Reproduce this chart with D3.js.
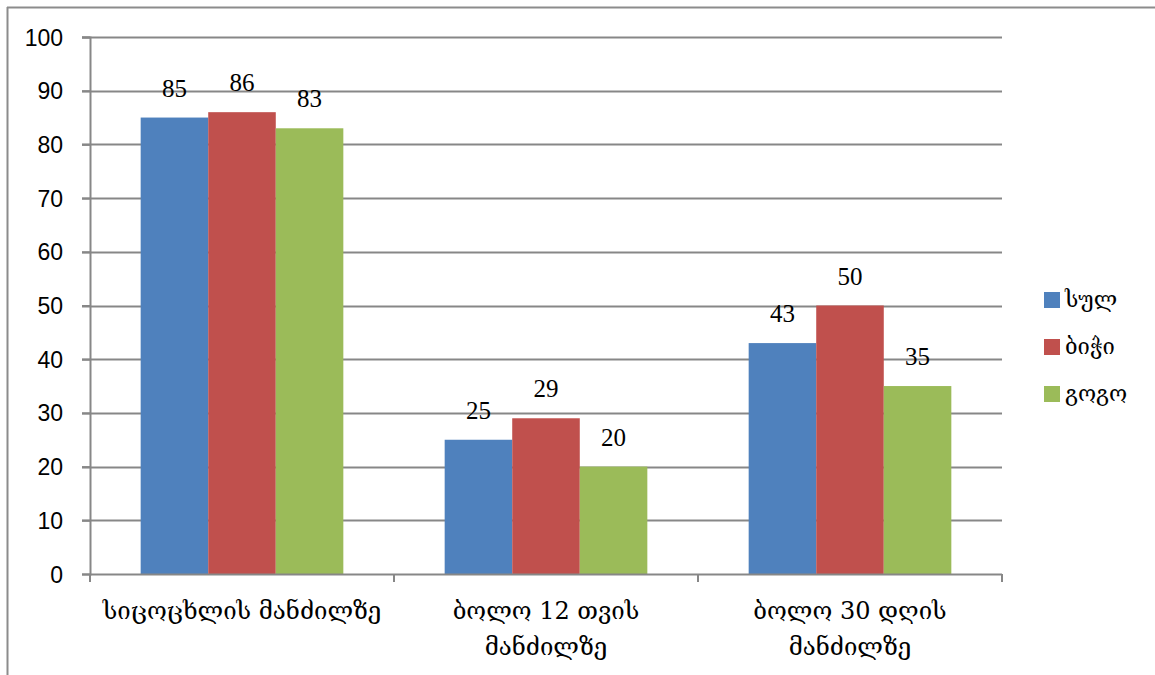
<!DOCTYPE html>
<html>
<head>
<meta charset="utf-8">
<script src="https://cdn.jsdelivr.net/npm/d3@7"></script>
<style>
  html, body { margin: 0; padding: 0; background: #fff; }
  svg { display: block; }
</style>
</head>
<body>
<svg id="chart" width="1155" height="675"></svg>
<script>
// Categories (each split into display lines) and series values
const categories = ["სიცოცხლის მანძილზე", "ბოლო 12 თვის მანძილზე", "ბოლო 30 დღის მანძილზე"];
const categoryLines = [["სიცოცხლის მანძილზე"], ["ბოლო 12 თვის", "მანძილზე"], ["ბოლო 30 დღის", "მანძილზე"]];
const seriesNames = ["სულ", "ბიჭი", "გოგო"];
const totalValues = [85, 25, 43];
const boyValues = [86, 29, 50];
const girlValues = [83, 20, 35];
const yTicks = [0, 10, 20, 30, 40, 50, 60, 70, 80, 90, 100];

const seriesColors = ["#4F81BD", "#C0504D", "#9BBB59"];
const seriesValues = [totalValues, boyValues, girlValues];

const svg = d3.select("#chart");
const plot = { left: 90, right: 1002, top: 37, bottom: 574 };
const gridColor = "#878787";

// Outer chart frame (top and left edges visible)
svg.append("line").attr("x1", 7).attr("x2", 1155).attr("y1", 7.5).attr("y2", 7.5)
  .attr("stroke", "#8c8c8c").attr("stroke-width", 2);
svg.append("line").attr("x1", 7.5).attr("x2", 7.5).attr("y1", 7).attr("y2", 675)
  .attr("stroke", "#8c8c8c").attr("stroke-width", 2);

const x0 = d3.scaleBand().domain(categories).range([plot.left, plot.right]).paddingInner(0).paddingOuter(0);
// Gap between clusters equals 1.5 bar widths
const barW = x0.bandwidth() / (3 + 1.5);
const x1 = d3.scaleBand().domain(seriesNames).range([0, barW * 3]);

const y = d3.scaleLinear().domain([0, 100]).range([plot.bottom, plot.top]);

// Horizontal gridlines
svg.append("g").selectAll("line").data(yTicks.filter(t => t > 0)).join("line")
  .attr("x1", plot.left - 8).attr("x2", plot.right)
  .attr("y1", d => Math.round(y(d)) + 0.5).attr("y2", d => Math.round(y(d)) + 0.5)
  .attr("stroke", gridColor).attr("stroke-width", 2);

// Y axis
const yAxis = svg.append("g").attr("transform", `translate(${plot.left},0)`)
  .call(d3.axisLeft(y).tickValues(yTicks).tickSize(8).tickPadding(19));
yAxis.select(".domain").attr("stroke", gridColor).attr("stroke-width", 2);
yAxis.selectAll(".tick line").attr("stroke", gridColor).attr("stroke-width", 2);
yAxis.selectAll(".tick text")
  .attr("font-family", "'Liberation Sans', Arial, sans-serif")
  .attr("font-size", 23).attr("fill", "#000").attr("dy", "0.35em");

// Bars
const groups = svg.append("g").selectAll("g").data(categories).join("g")
  .attr("transform", c => `translate(${x0(c) + (x0.bandwidth() - barW * 3) / 2},0)`);

groups.selectAll("rect").data((c, i) => seriesNames.map((s, j) => ({ s, v: seriesValues[j][i], j })))
  .join("rect")
  .attr("x", d => x1(d.s))
  .attr("width", x1.bandwidth())
  .attr("y", d => y(d.v))
  .attr("height", d => y(0) - y(d.v))
  .attr("fill", d => seriesColors[d.j]);

// Value labels above bars
groups.selectAll("text").data((c, i) => seriesNames.map((s, j) => ({ s, v: seriesValues[j][i], j })))
  .join("text")
  .attr("x", d => x1(d.s) + x1.bandwidth() / 2)
  .attr("y", d => y(d.v) - 21)
  .attr("text-anchor", "middle")
  .attr("font-family", "'Liberation Serif', 'Times New Roman', serif")
  .attr("font-size", 25).attr("fill", "#000")
  .text(d => d.v);

// X axis line with category separators
const xAxis = svg.append("g").attr("transform", `translate(0,${plot.bottom})`);
xAxis.append("line").attr("x1", plot.left).attr("x2", plot.right).attr("y1", 0.5).attr("y2", 0.5)
  .attr("stroke", gridColor).attr("stroke-width", 2);
const sepX = categories.map(c => x0(c)).concat([plot.right]);
xAxis.selectAll("line.sep").data(sepX).join("line").attr("class", "sep")
  .attr("x1", d => d).attr("x2", d => d).attr("y1", 0).attr("y2", 8)
  .attr("stroke", gridColor).attr("stroke-width", 2);

// Category labels
const catLabels = xAxis.selectAll("text.cat").data(categories).join("text").attr("class", "cat")
  .attr("text-anchor", "middle")
  .attr("font-family", "'DejaVu Serif', 'DejaVu Sans', serif")
  .attr("font-size", 24).attr("fill", "#000");
catLabels.each(function (c, i) {
  const t = d3.select(this);
  categoryLines[i].forEach((line, k) => {
    t.append("tspan").attr("x", x0(c) + x0.bandwidth() / 2).attr("y", 45 + k * 36).text(line);
  });
});

// Legend
const legend = svg.append("g").attr("transform", "translate(1044,292)");
const items = legend.selectAll("g").data(seriesNames).join("g")
  .attr("transform", (d, i) => `translate(0,${i * 47})`);
items.append("rect").attr("width", 16).attr("height", 16).attr("fill", (d, i) => seriesColors[i]);
items.append("text").attr("x", 21).attr("y", 15)
  .attr("font-family", "'DejaVu Serif', 'DejaVu Sans', serif")
  .attr("font-size", 22).attr("fill", "#000").text(d => d);
</script>
</body>
</html>
